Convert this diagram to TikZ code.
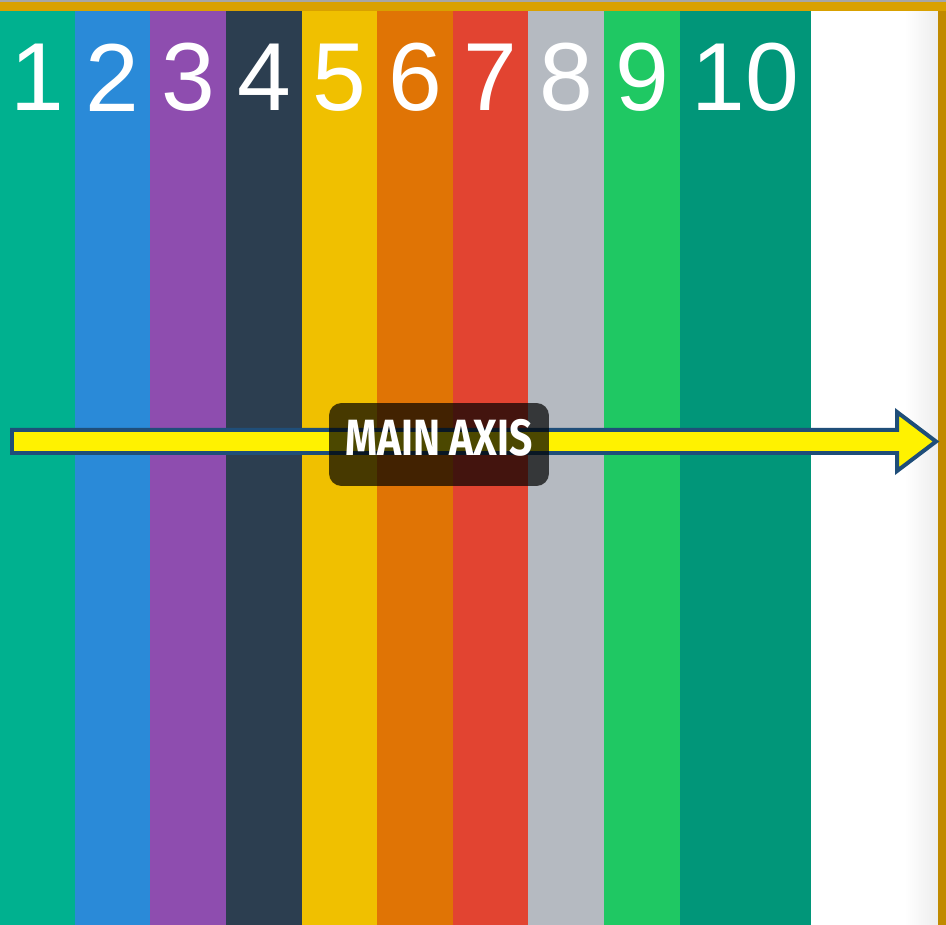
\documentclass[tikz,border=0pt]{standalone}
\usepackage{fontspec}
\setmainfont{Liberation Sans}
\newfontfamily\axisfont{Fira Sans}
\usetikzlibrary{positioning,calc}

\definecolor{colA}{HTML}{00B18F}
\definecolor{colB}{HTML}{2A8AD8}
\definecolor{colC}{HTML}{8E4DAF}
\definecolor{colD}{HTML}{2C3E50}
\definecolor{colE}{HTML}{F0C000}
\definecolor{colF}{HTML}{E07405}
\definecolor{colG}{HTML}{E24431}
\definecolor{colH}{HTML}{B5BAC1}
\definecolor{colI}{HTML}{1FC863}
\definecolor{colJ}{HTML}{019679}
\definecolor{frameGold}{HTML}{D9A100}
\definecolor{sideGold}{HTML}{C08A00}
\definecolor{arrowEdge}{HTML}{1F4E79}

\begin{document}
\begin{tikzpicture}[x=0.02cm, y=-0.02cm,
  digit/.style={text=white, inner sep=0pt,
                font=\fontsize{55}{55}\selectfont},
  axisarrow/.style={draw=arrowEdge, fill=yellow, line width=0.08cm,
                    line join=miter},
  axislabel/.style={fill=black, fill opacity=0.7, rounded corners=0.25cm,
                    minimum width=4.4cm, minimum height=1.66cm}]

  \useasboundingbox (0,0) rectangle (946,925);

  % white page with a faint edge
  \fill[white] (0,0) rectangle (946,925);
  \shade[left color=white, right color=black!7] (905,11) rectangle (938,925);

  % gold frame
  \fill[sideGold] (938,0) rectangle (946,925);
  \fill[frameGold] (0,0) rectangle (946,11);
  \fill[black!35] (0,0) rectangle (946,2);

  % coloured columns with their numbers
  \foreach \n/\xa/\xb/\col in {1/0/75/colA, 2/75/150/colB, 3/150/226/colC,
      4/226/302/colD, 5/302/377/colE, 6/377/453/colF, 7/453/528/colG,
      8/528/604/colH, 9/604/680/colI, 10/680/811/colJ} {
    \fill[\col] (\xa,11) rectangle (\xb,925);
    \node[digit] (num\n) at ({(\xa+\xb)/2},77.5) {\n};
  }

  % main axis arrow
  \coordinate (tail) at (12,441.5);
  \coordinate (tip) at (936,441.5);
  \draw[axisarrow] ($(tail)+(0,-11.5)$) -- (897,430) -- (897,412) -- (tip)
    -- (897,471) -- (897,453) -- ($(tail)+(0,11.5)$) -- cycle;

  \node[axislabel] (labelbox) at (439,444.5) {};
  \node[text=white, inner sep=0pt, font=\axisfont\bfseries\fontsize{29}{29}\selectfont]
    (mainaxis) at (439,437.5) {\scalebox{0.8}[1]{MAIN AXIS}};

\end{tikzpicture}
\end{document}
